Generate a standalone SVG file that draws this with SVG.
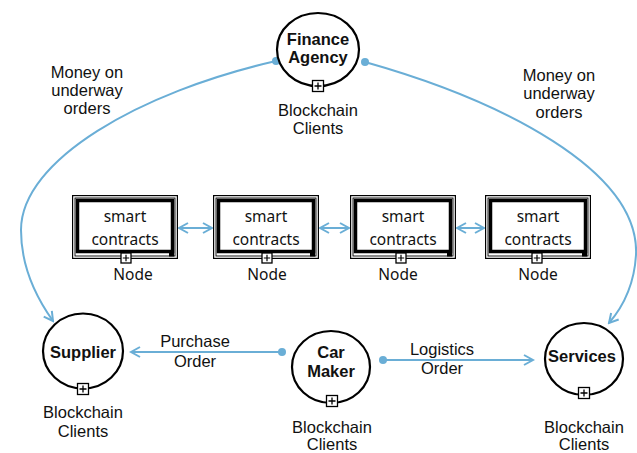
<svg xmlns="http://www.w3.org/2000/svg" width="637" height="453" viewBox="0 0 637 453">
<defs>
<style>
.lbl{font-family:"Liberation Sans",Arial,sans-serif;font-size:16.5px;fill:#111;text-anchor:middle}
.bold{font-family:"Liberation Sans",Arial,sans-serif;font-size:16.5px;font-weight:bold;fill:#111;text-anchor:middle}
.sc{font-family:"Noto Sans","Open Sans",sans-serif;font-size:15.5px;fill:#111;text-anchor:middle}
.ent{fill:#fff;stroke:#000;stroke-width:2.2}
.conn{fill:none;stroke:#6aaed6;stroke-width:2}
.dot{fill:#6aaed6}
.frame{fill:#fff;stroke:#000;stroke-width:1.2}
.thick{fill:#fff;stroke:#000;stroke-width:3.5}
.plus{fill:#fff;stroke:#000;stroke-width:1.3}
</style>
<marker id="ah" viewBox="0 0 12 12" markerWidth="12" markerHeight="12" refX="10" refY="6" orient="auto-start-reverse" markerUnits="userSpaceOnUse">
<path d="M1,1 L10,6 L1,11" fill="none" stroke="#6aaed6" stroke-width="2"/>
</marker>
<g id="pl">
<rect x="-5.5" y="-5.5" width="11" height="11" class="plus"/>
<path d="M-3.5,0 H3.5 M0,-3.5 V3.5" stroke="#000" stroke-width="1.3"/>
</g>
<g id="pls">
<rect x="-5" y="-5" width="10" height="10" class="plus"/>
<path d="M-3.2,0 H3.2 M0,-3.2 V3.2" stroke="#000" stroke-width="1.2"/>
</g>
<g id="box">
<rect x="0.6" y="0.6" width="104.8" height="62.8" class="frame"/>
<rect x="3" y="3" width="100" height="58" fill="none" stroke="#000" stroke-width="0.9"/>
<rect x="5.5" y="5.5" width="95" height="51" class="thick"/>
<rect x="97" y="57.5" width="5" height="4" fill="#000"/>
</g>
</defs>

<g id="connectors">
<path class="conn" d="M276,61 C140,92 21,160 21,230 C21,270 38,300 53,321" marker-end="url(#ah)"/>
<circle class="dot" cx="276" cy="61" r="4"/>
<path class="conn" d="M365,62 C500,100 640,170 636,255 C634,288 622,308 609,323" marker-end="url(#ah)"/>
<circle class="dot" cx="365" cy="62" r="4"/>
<line class="conn" x1="282" y1="352" x2="131" y2="352" marker-end="url(#ah)"/>
<circle class="dot" cx="282" cy="352" r="4"/>
<line class="conn" x1="383" y1="360" x2="533" y2="360" marker-end="url(#ah)"/>
<circle class="dot" cx="383" cy="360" r="4"/>
<line class="conn" x1="179" y1="228" x2="212" y2="228" marker-start="url(#ah)" marker-end="url(#ah)"/>
<line class="conn" x1="320" y1="228" x2="349" y2="228" marker-start="url(#ah)" marker-end="url(#ah)"/>
<line class="conn" x1="457" y1="228" x2="484" y2="228" marker-start="url(#ah)" marker-end="url(#ah)"/>
<text class="lbl" x="87" y="78">Money on</text>
<text class="lbl" x="87" y="96">underway</text>
<text class="lbl" x="87" y="114">orders</text>
<text class="lbl" x="559" y="81">Money on</text>
<text class="lbl" x="559" y="99">underway</text>
<text class="lbl" x="559" y="118">orders</text>
<text class="lbl" x="195" y="347">Purchase</text>
<text class="lbl" x="195" y="367">Order</text>
<text class="lbl" x="442" y="355">Logistics</text>
<text class="lbl" x="442" y="374">Order</text>
</g>

<g id="finance">
<ellipse class="ent" cx="318" cy="49.5" rx="41" ry="36.5"/>
<text class="bold" x="318" y="45">Finance</text>
<text class="bold" x="318" y="63">Agency</text>
<use href="#pl" x="318" y="86"/>
<text class="lbl" x="318" y="116">Blockchain</text>
<text class="lbl" x="318" y="134">Clients</text>
</g>

<g id="supplier">
<ellipse class="ent" cx="83" cy="351" rx="40" ry="37.5"/>
<text class="bold" x="83" y="358">Supplier</text>
<use href="#pl" x="83" y="389"/>
<text class="lbl" x="83" y="418">Blockchain</text>
<text class="lbl" x="83" y="437">Clients</text>
</g>

<g id="carmaker">
<ellipse class="ent" cx="331" cy="367" rx="39" ry="36"/>
<text class="bold" x="331" y="358">Car</text>
<text class="bold" x="331" y="377">Maker</text>
<use href="#pl" x="332" y="401"/>
<text class="lbl" x="332" y="433">Blockchain</text>
<text class="lbl" x="332" y="450">Clients</text>
</g>

<g id="services">
<ellipse class="ent" cx="584" cy="359" rx="39" ry="36"/>
<text class="bold" x="582" y="362">Services</text>
<use href="#pl" x="584" y="393"/>
<text class="lbl" x="584" y="433">Blockchain</text>
<text class="lbl" x="584" y="450">Clients</text>
</g>

<g id="node1">
<use href="#box" x="72" y="195"/>
<text class="sc" x="125" y="222">smart</text>
<text class="sc" x="125" y="245">contracts</text>
<use href="#pls" x="126" y="258"/>
<text class="sc" x="133" y="280">Node</text>
</g>
<g id="node2">
<use href="#box" x="213" y="195"/>
<text class="sc" x="266" y="222">smart</text>
<text class="sc" x="266" y="245">contracts</text>
<use href="#pls" x="267" y="258"/>
<text class="sc" x="267" y="280">Node</text>
</g>
<g id="node3">
<use href="#box" x="350" y="195"/>
<text class="sc" x="403" y="222">smart</text>
<text class="sc" x="403" y="245">contracts</text>
<use href="#pls" x="401" y="258"/>
<text class="sc" x="398" y="280">Node</text>
</g>
<g id="node4">
<use href="#box" x="485" y="195"/>
<text class="sc" x="538" y="222">smart</text>
<text class="sc" x="538" y="245">contracts</text>
<use href="#pls" x="537" y="258"/>
<text class="sc" x="538" y="280">Node</text>
</g>
</svg>
